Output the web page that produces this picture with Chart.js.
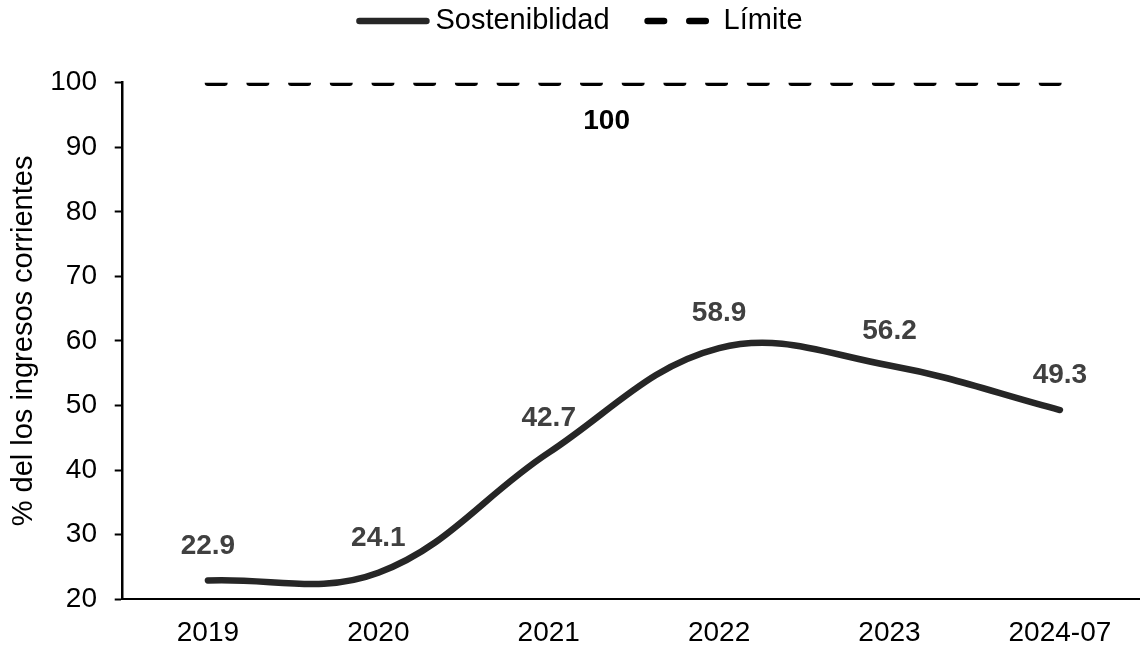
<!DOCTYPE html>
<html>
<head>
<meta charset="utf-8">
<title>Sostenibilidad</title>
<script src="https://cdn.jsdelivr.net/npm/chart.js@4.4.1/dist/chart.umd.min.js"></script>
<style>
  html, body { margin: 0; padding: 0; background: #ffffff; }
  #wrap { width: 1140px; height: 650px; }
</style>
</head>
<body>
<div id="wrap"><canvas id="chart" width="1140" height="650"></canvas></div>
<script>
// Series data
const categories = ['2019', '2020', '2021', '2022', '2023', '2024-07'];
const sostenibilidad = [22.9, 24.1, 42.7, 58.9, 56.2, 49.3];
const limite = [100, 100, 100, 100, 100, 100];
const yTicks = [20, 30, 40, 50, 60, 70, 80, 90, 100];
const seriesNames = ['Sosteniblidad', 'Límite'];
const yTitle = '% del los ingresos corrientes';

const FONT = "'Liberation Sans', Arial, Helvetica, sans-serif";

// Line legend drawn above the plot
const lineLegend = {
  id: 'lineLegend',
  afterDraw(chart, args, opts) {
    const ctx = chart.ctx;
    ctx.save();
    ctx.font = opts.fontSize + 'px ' + FONT;
    ctx.textBaseline = 'middle';
    ctx.textAlign = 'left';
    const items = chart.data.datasets.map(ds => ({
      label: ds.label,
      color: ds.borderColor,
      width: ds.borderWidth,
      dash: ds.borderDash || [],
      textW: ctx.measureText(ds.label).width
    }));
    let total = 0;
    items.forEach((it, i) => {
      total += opts.sample + opts.gap + it.textW + (i ? opts.spacing : 0);
    });
    let x = opts.centerX - total / 2;
    const y = opts.y;
    items.forEach(it => {
      ctx.beginPath();
      ctx.setLineDash(it.dash);
      ctx.lineDashOffset = 0;
      ctx.lineCap = 'round';
      ctx.lineWidth = it.width;
      ctx.strokeStyle = it.color;
      ctx.moveTo(x, y);
      ctx.lineTo(x + opts.sample, y);
      ctx.stroke();
      ctx.setLineDash([]);
      ctx.fillStyle = '#000000';
      ctx.fillText(it.label, x + opts.sample + opts.gap, y);
      x += opts.sample + opts.gap + it.textW + opts.spacing;
    });
    ctx.restore();
  }
};

// Value labels above the points and the threshold label
const valueLabels = {
  id: 'valueLabels',
  afterDatasetsDraw(chart, args, opts) {
    const ctx = chart.ctx;
    ctx.save();
    ctx.font = 'bold ' + opts.fontSize + 'px ' + FONT;
    ctx.textAlign = 'center';
    ctx.textBaseline = 'middle';
    ctx.fillStyle = '#404040';
    const meta = chart.getDatasetMeta(0);
    meta.data.forEach((pt, i) => {
      ctx.fillText(sostenibilidad[i].toFixed(1), pt.x, pt.y - opts.offset);
    });
    const xs = chart.scales.x, ys = chart.scales.y;
    ctx.fillStyle = '#000000';
    ctx.fillText(String(limite[0]), xs.getPixelForValue(opts.limitAt), ys.getPixelForValue(limite[0]) + opts.limitOffset);
    ctx.restore();
  }
};

new Chart(document.getElementById('chart'), {
  type: 'line',
  data: {
    datasets: [
      {
        label: seriesNames[0],
        data: sostenibilidad.map((v, i) => ({ x: i, y: v })),
        borderColor: '#262626',
        borderWidth: 6.5,
        borderCapStyle: 'round',
        borderJoinStyle: 'round',
        tension: 0.38,
        pointRadius: 0,
        fill: false
      },
      {
        label: seriesNames[1],
        data: limite.map((v, i) => ({ x: i, y: v })),
        borderColor: '#000000',
        borderWidth: 6.5,
        borderDash: [16.5, 25.2],
        borderCapStyle: 'round',
        tension: 0,
        pointRadius: 0,
        fill: false
      }
    ]
  },
  options: {
    responsive: false,
    devicePixelRatio: 1,
    animation: false,
    layout: { padding: { top: 82.7, left: 0, right: 0, bottom: -17.2 } },
    plugins: {
      legend: { display: false },
      tooltip: { enabled: false },
      lineLegend: { fontSize: 29, sample: 67, gap: 9, spacing: 38, centerX: 581, y: 21 },
      valueLabels: { fontSize: 28, offset: 34.5, limitAt: 2.34, limitOffset: 38.6 }
    },
    scales: {
      x: {
        type: 'linear',
        min: -0.5,
        max: 5.47,
        afterBuildTicks: axis => { axis.ticks = categories.map((c, i) => ({ value: i })); },
        ticks: {
          autoSkip: false,
          maxRotation: 0,
          padding: 17.2,
          color: '#000000',
          font: { family: FONT, size: 28 },
          callback: v => categories[v]
        },
        grid: { display: true, drawOnChartArea: false, drawTicks: false },
        border: { display: true, color: '#000000', width: 2 }
      },
      y: {
        min: 20,
        max: 100,
        afterBuildTicks: axis => { axis.ticks = yTicks.map(v => ({ value: v })); },
        ticks: {
          padding: 17.7,
          color: '#000000',
          font: { family: FONT, size: 28 }
        },
        grid: {
          display: true,
          drawOnChartArea: false,
          drawTicks: true,
          tickLength: 8,
          tickWidth: 2,
          tickColor: '#000000'
        },
        border: { display: true, color: '#000000', width: 2.5 },
        title: {
          display: true,
          text: yTitle,
          color: '#000000',
          font: { family: FONT, size: 29 },
          padding: { top: 6.6, bottom: -8.8 }
        }
      }
    }
  },
  plugins: [lineLegend, valueLabels]
});
</script>
</body>
</html>
